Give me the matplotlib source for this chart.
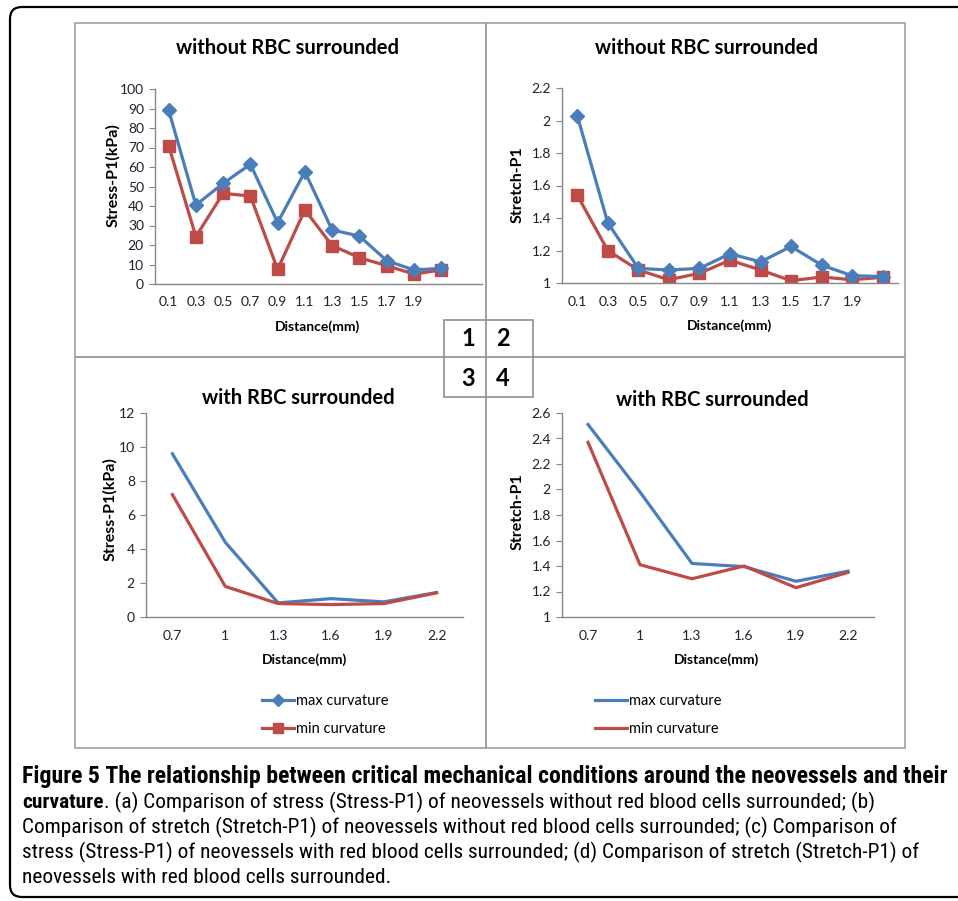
import matplotlib
matplotlib.use('Agg')
import matplotlib.pyplot as plt
from matplotlib import font_manager
from matplotlib.patches import FancyBboxPatch, Rectangle
from matplotlib.lines import Line2D

# data
dist_top = ['0.1', '0.3', '0.5', '0.7', '0.9', '1.1', '1.3', '1.5', '1.7', '1.9']
stress_no_rbc_max = [89.2, 40.5, 51.6, 61.4, 31.5, 57.6, 27.7, 24.6, 12.0, 7.2, 8.0]
stress_no_rbc_min = [71.0, 24.3, 46.5, 45.1, 7.5, 38.0, 19.7, 13.5, 9.4, 5.1, 7.2]
stretch_no_rbc_max = [2.03, 1.37, 1.09, 1.08, 1.09, 1.18, 1.13, 1.225, 1.11, 1.045, 1.04]
stretch_no_rbc_min = [1.54, 1.20, 1.08, 1.02, 1.06, 1.14, 1.08, 1.014, 1.037, 1.02, 1.035]

dist_bottom = ['0.7', '1', '1.3', '1.6', '1.9', '2.2']
stress_rbc_max = [9.6, 4.4, 0.83, 1.08, 0.89, 1.44]
stress_rbc_min = [7.2, 1.8, 0.79, 0.73, 0.79, 1.42]
stretch_rbc_max = [2.51, 1.98, 1.42, 1.395, 1.28, 1.36]
stretch_rbc_min = [2.37, 1.41, 1.30, 1.40, 1.23, 1.35]

labels = ['max curvature', 'min curvature']

BLUE = '#4a7ebb'
RED = '#be4b48'
W, H = 958, 901
CHART_FONT = ['Lato', 'DejaVu Sans']

# narrowest caption font that is actually installed
installed = {f.name for f in font_manager.fontManager.ttflist}
cap_choice = 'Lato'
for name in ['Liberation Sans Narrow', 'DejaVu Sans Condensed', 'Roboto Condensed', 'Open Sans Condensed']:
    if name in installed:
        cap_choice = name
        break
CAP_FONT = [cap_choice, 'DejaVu Sans']

fig = plt.figure(figsize=(W / 100, H / 100), dpi=100)

# overlay in pixel coordinates for frames, boxes and caption
bg = fig.add_axes([0, 0, 1, 1], zorder=0)
bg.set_xlim(0, W)
bg.set_ylim(H, 0)
bg.axis('off')

bg.add_patch(FancyBboxPatch((10, 7), 980, 890, boxstyle='round,pad=0,rounding_size=12',
                            fill=False, ec='black', lw=1.6))
for x0, y0, x1, y1 in [(75, 23, 486, 357), (486, 23, 905, 357),
                       (75, 357, 486, 748), (486, 357, 905, 748)]:
    bg.add_patch(Rectangle((x0, y0), x1 - x0, y1 - y0, fill=False, ec='#a0a0a0', lw=1.2))
bg.add_patch(Rectangle((444, 320), 89, 77, fc='white', ec='#909090', lw=1.2))
bg.plot([486, 486], [320, 397], color='#909090', lw=1.2)
bg.plot([444, 533], [357, 357], color='#909090', lw=1.2)
for s, x, y in [('1', 468, 339), ('2', 503, 339), ('3', 468, 379), ('4', 503, 379)]:
    bg.text(x, y, s, fontsize=17, fontweight='bold', ha='center', va='center', family=CHART_FONT)


def px_box(x0, y0, x1, y1):
    return [x0 / W, 1 - y1 / H, (x1 - x0) / W, (y1 - y0) / H]


def style(ax, yticks, yticklabels, xlabels, ylim, xlim):
    ax.set_facecolor('none')
    for sp in ['top', 'right']:
        ax.spines[sp].set_visible(False)
    for sp in ['left', 'bottom']:
        ax.spines[sp].set_color('#868686')
        ax.spines[sp].set_linewidth(1.0)
    ax.set_ylim(*ylim)
    ax.set_xlim(*xlim)
    ax.set_yticks(yticks)
    ax.set_yticklabels(yticklabels, family=CHART_FONT, fontsize=10, color='#1f1f2f')
    ax.set_xticks(range(len(xlabels)))
    ax.set_xticklabels(xlabels, family=CHART_FONT, fontsize=10, color='#1f1f2f')
    ax.tick_params(axis='y', length=4, color='#868686', pad=4)
    ax.tick_params(axis='x', length=0, pad=9)


def txt(x, y, s, size, **kw):
    bg.text(x, y, s, fontsize=size, fontweight='bold', ha='center', va='center',
            family=CHART_FONT, **kw)


# (a) stress without RBC
ax1 = fig.add_axes(px_box(155, 89, 482, 284), zorder=2)
x = range(len(stress_no_rbc_max))
ax1.plot(x, stress_no_rbc_max, color=BLUE, lw=2.3, marker='D', ms=7, zorder=3)
ax1.plot(x, stress_no_rbc_min, color=RED, lw=2.3, marker='s', ms=8.5, zorder=2)
style(ax1, range(0, 101, 10), [str(v) for v in range(0, 101, 10)], dist_top, (0, 100), (-0.5, 11.5))
txt(288, 48, 'without RBC surrounded', 14.5)
txt(318, 327, 'Distance(mm)', 10)
txt(113, 175, 'Stress-P1(kPa)', 11.5, rotation=90)

# (b) stretch without RBC
ax2 = fig.add_axes(px_box(562, 88, 898, 283), zorder=2)
x = range(len(stretch_no_rbc_max))
ax2.plot(x, stretch_no_rbc_max, color=BLUE, lw=2.3, marker='D', ms=7, zorder=3)
ax2.plot(x, stretch_no_rbc_min, color=RED, lw=2.3, marker='s', ms=8.5, zorder=2)
yt = [1, 1.2, 1.4, 1.6, 1.8, 2, 2.2]
style(ax2, yt, ['1', '1.2', '1.4', '1.6', '1.8', '2', '2.2'], dist_top, (1, 2.2), (-0.5, 10.5))
txt(707, 48, 'without RBC surrounded', 14.5)
txt(730, 326, 'Distance(mm)', 10)
txt(518, 185, 'Stretch-P1', 11.5, rotation=90)

# (c) stress with RBC
ax3 = fig.add_axes(px_box(146, 413, 463, 617), zorder=2)
x = range(len(stress_rbc_max))
ax3.plot(x, stress_rbc_max, color=BLUE, lw=2.3)
ax3.plot(x, stress_rbc_min, color=RED, lw=2.3)
style(ax3, range(0, 13, 2), [str(v) for v in range(0, 13, 2)], dist_bottom, (0, 12), (-0.5, 5.5))
txt(298, 398, 'with RBC surrounded', 14.5)
txt(305, 660, 'Distance(mm)', 10)
txt(110, 509, 'Stress-P1(kPa)', 11.5, rotation=90)
h3 = [Line2D([], [], color=BLUE, lw=2.3, marker='D', ms=6),
      Line2D([], [], color=RED, lw=2.3, marker='s', ms=7)]
ax3.legend(h3, labels, loc='center left', bbox_to_anchor=(262 / W, 1 - 715 / H),
           bbox_transform=fig.transFigure, frameon=False, prop={'family': CHART_FONT, 'size': 10.5},
           handlelength=2.2, handletextpad=0.15, labelspacing=1.0, borderpad=0, borderaxespad=0)

# (d) stretch with RBC
ax4 = fig.add_axes(px_box(562, 413, 874, 617), zorder=2)
x = range(len(stretch_rbc_max))
ax4.plot(x, stretch_rbc_max, color=BLUE, lw=2.3)
ax4.plot(x, stretch_rbc_min, color=RED, lw=2.3)
yt = [1, 1.2, 1.4, 1.6, 1.8, 2, 2.2, 2.4, 2.6]
style(ax4, yt, ['1', '1.2', '1.4', '1.6', '1.8', '2', '2.2', '2.4', '2.6'], dist_bottom,
      (1, 2.6), (-0.5, 5.5))
txt(712, 400, 'with RBC surrounded', 14.5)
txt(717, 660, 'Distance(mm)', 10)
txt(518, 512, 'Stretch-P1', 11.5, rotation=90)
h4 = [Line2D([], [], color=BLUE, lw=2.3), Line2D([], [], color=RED, lw=2.3)]
ax4.legend(h4, labels, loc='center left', bbox_to_anchor=(595 / W, 1 - 715 / H),
           bbox_transform=fig.transFigure, frameon=False, prop={'family': CHART_FONT, 'size': 10.5},
           handlelength=2.2, handletextpad=0.15, labelspacing=1.0, borderpad=0, borderaxespad=0)

# caption
cap = dict(fontsize=14, family=CAP_FONT, va='baseline', ha='left', color='black')
t1 = bg.text(22, 783, 'Figure 5 The relationship between critical mechanical conditions around the '
             'neovessels and their', fontweight='bold', **cap)
b = bg.text(22, 808, 'curvature', fontweight='bold', **cap)
t2 = bg.annotate('. (a) Comparison of stress (Stress-P1) of neovessels without red blood cells '
                 'surrounded; (b)', xy=(1, 808), xycoords=(b, bg.transData), **cap)
t3 = bg.text(22, 833, 'Comparison of stretch (Stretch-P1) of neovessels without red blood cells '
             'surrounded; (c) Comparison of', **cap)
t4 = bg.text(22, 858, 'stress (Stress-P1) of neovessels with red blood cells surrounded; (d) '
             'Comparison of stretch (Stretch-P1) of', **cap)
t5 = bg.text(22, 883, 'neovessels with red blood cells surrounded.', **cap)

# fit caption sizes to the widths in the reference
fig.canvas.draw()
r = fig.canvas.get_renderer()
w1 = t1.get_window_extent(r).width
t1.set_fontsize(14 * 928 / w1)
w3 = t3.get_window_extent(r).width
reg = 14 * 883 / w3
for t in [b, t2, t3, t4, t5]:
    t.set_fontsize(reg)

fig.savefig('out.png', dpi=100)
